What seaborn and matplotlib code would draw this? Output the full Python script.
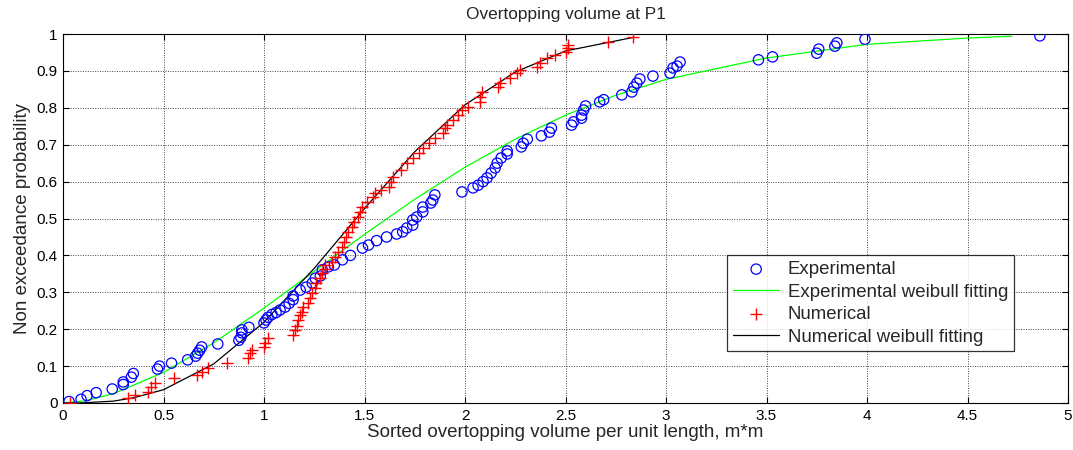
import matplotlib
matplotlib.use("Agg")
import matplotlib.pyplot as plt
import seaborn as sns
import pandas as pd
from matplotlib.ticker import FuncFormatter

# ---- data ----
exp_x = [0.03, 0.09, 0.12, 0.165, 0.245, 0.30, 0.30, 0.34, 0.35, 0.47, 0.48, 0.54, 0.62, 0.66,
         0.67, 0.68, 0.69, 0.77, 0.875, 0.885, 0.89, 0.89, 0.925, 1.00, 1.01, 1.02, 1.04, 1.06,
         1.08, 1.105, 1.125, 1.145, 1.145, 1.18, 1.21, 1.24, 1.255, 1.28, 1.29, 1.32, 1.35, 1.39,
         1.43, 1.49, 1.52, 1.56, 1.61, 1.66, 1.69, 1.71, 1.74, 1.74, 1.76, 1.79, 1.79, 1.83, 1.84,
         1.85, 1.985, 2.04, 2.065, 2.09, 2.11, 2.13, 2.15, 2.16, 2.18, 2.21, 2.21, 2.28, 2.29,
         2.31, 2.38, 2.42, 2.43, 2.53, 2.54, 2.58, 2.58, 2.59, 2.60, 2.67, 2.69, 2.78, 2.83, 2.84,
         2.855, 2.87, 2.935, 3.02, 3.035, 3.055, 3.07, 3.46, 3.53, 3.75, 3.76, 3.84, 3.85, 3.99,
         4.86]
exp_y = [0.004, 0.010, 0.020, 0.028, 0.038, 0.050, 0.057, 0.070, 0.080, 0.092, 0.100, 0.108,
         0.117, 0.127, 0.135, 0.143, 0.152, 0.160, 0.170, 0.178, 0.190, 0.198, 0.205, 0.217,
         0.225, 0.232, 0.240, 0.245, 0.252, 0.260, 0.270, 0.280, 0.290, 0.306, 0.314, 0.325,
         0.338, 0.344, 0.361, 0.369, 0.374, 0.388, 0.400, 0.420, 0.428, 0.440, 0.450, 0.458,
         0.464, 0.474, 0.482, 0.496, 0.504, 0.518, 0.531, 0.542, 0.550, 0.564, 0.572, 0.583,
         0.590, 0.600, 0.610, 0.623, 0.637, 0.650, 0.664, 0.675, 0.683, 0.694, 0.704, 0.715,
         0.724, 0.734, 0.745, 0.753, 0.762, 0.772, 0.780, 0.794, 0.805, 0.816, 0.822, 0.835,
         0.843, 0.856, 0.867, 0.878, 0.886, 0.894, 0.908, 0.913, 0.924, 0.930, 0.938, 0.948,
         0.959, 0.967, 0.976, 0.986, 0.995]

num_x = [0.035, 0.325, 0.36, 0.425, 0.44, 0.46, 0.55, 0.665, 0.69, 0.72, 0.815, 0.92, 0.93,
         0.94, 1.00, 1.005, 1.02, 1.145, 1.155, 1.163, 1.17, 1.18, 1.19, 1.195, 1.22, 1.23,
         1.24, 1.255, 1.26, 1.28, 1.29, 1.305, 1.305, 1.34, 1.355, 1.37, 1.39, 1.40, 1.41,
         1.42, 1.44, 1.45, 1.47, 1.48, 1.49, 1.51, 1.54, 1.55, 1.58, 1.62, 1.63, 1.64, 1.68,
         1.71, 1.74, 1.77, 1.79, 1.82, 1.85, 1.89, 1.90, 1.91, 1.94, 1.965, 1.985, 2.015,
         2.075, 2.075, 2.085, 2.165, 2.175, 2.225, 2.26, 2.275, 2.36, 2.375, 2.41, 2.45,
         2.50, 2.51, 2.51, 2.71, 2.835]
num_y = [0.000, 0.013, 0.022, 0.030, 0.044, 0.054, 0.068, 0.076, 0.085, 0.094, 0.108, 0.122,
         0.135, 0.143, 0.152, 0.162, 0.175, 0.184, 0.197, 0.210, 0.224, 0.238, 0.247, 0.260,
         0.270, 0.284, 0.297, 0.311, 0.325, 0.338, 0.352, 0.362, 0.374, 0.382, 0.396, 0.409,
         0.423, 0.436, 0.450, 0.463, 0.477, 0.490, 0.504, 0.518, 0.531, 0.545, 0.558, 0.569,
         0.577, 0.585, 0.599, 0.612, 0.631, 0.650, 0.664, 0.678, 0.691, 0.705, 0.718, 0.732,
         0.745, 0.753, 0.767, 0.780, 0.794, 0.802, 0.816, 0.829, 0.843, 0.856, 0.867, 0.880,
         0.894, 0.902, 0.911, 0.921, 0.935, 0.943, 0.951, 0.962, 0.970, 0.978, 0.992]

expfit_x = [0.0, 0.1, 0.25, 0.5, 0.75, 1.0, 1.25, 1.5, 1.75, 2.0, 2.25, 2.5, 2.75, 3.0, 3.5,
            4.0, 4.5, 4.72]
expfit_y = [0.0, 0.005, 0.025, 0.083, 0.163, 0.257, 0.357, 0.457, 0.552, 0.639, 0.715, 0.780,
            0.834, 0.877, 0.935, 0.972, 0.989, 0.994]

numfit_x = [0.0, 0.1, 0.25, 0.35, 0.5, 0.75, 1.0, 1.25, 1.5, 1.75, 2.0, 2.25, 2.5, 2.83]
numfit_y = [0.0, 0.0005, 0.005, 0.014, 0.036, 0.106, 0.219, 0.365, 0.527, 0.681, 0.808, 0.897,
            0.954, 0.990]

title = "Overtopping volume at P1"
xlabel = "Sorted overtopping volume per unit length, m*m"
ylabel = "Non exceedance probability"
x_ticks = [0, 0.5, 1, 1.5, 2, 2.5, 3, 3.5, 4, 4.5, 5]
y_ticks = [0, 0.1, 0.2, 0.3, 0.4, 0.5, 0.6, 0.7, 0.8, 0.9, 1]

# ---- plotting ----
sns.set_theme(style="white")
plt.rcParams['font.family'] = ['Liberation Sans', 'DejaVu Sans']

fig = plt.figure(figsize=(10.73, 4.5), dpi=100)
ax = fig.add_axes([63 / 1073, 1 - 403 / 450, 1005 / 1073, 369 / 450])

exp_df = pd.DataFrame({"x": exp_x, "y": exp_y})
num_df = pd.DataFrame({"x": num_x, "y": num_y})
efit_df = pd.DataFrame({"x": expfit_x, "y": expfit_y})
nfit_df = pd.DataFrame({"x": numfit_x, "y": numfit_y})

sns.scatterplot(data=exp_df, x="x", y="y", ax=ax, marker="o", s=55,
                facecolors="none", edgecolor="#0000ff", linewidth=0.9,
                label="Experimental", zorder=3)
sns.lineplot(data=efit_df, x="x", y="y", ax=ax, color="#00ff00", linewidth=0.9,
             estimator=None, sort=False, label="Experimental weibull fitting", zorder=2)
sns.scatterplot(data=num_df, x="x", y="y", ax=ax, marker="+", s=65,
                color="#ff0000", linewidth=1.0, label="Numerical", zorder=3)
sns.lineplot(data=nfit_df, x="x", y="y", ax=ax, color="black", linewidth=0.9,
             estimator=None, sort=False, label="Numerical weibull fitting", zorder=2)

ax.set_xlim(0, 5)
ax.set_ylim(0, 1)
ax.set_xticks(x_ticks)
ax.set_yticks(y_ticks)
fmt = FuncFormatter(lambda v, p: "%g" % v)
ax.xaxis.set_major_formatter(fmt)
ax.yaxis.set_major_formatter(fmt)
ax.tick_params(direction="in", length=4, width=0.8, colors="black", labelsize=11,
               top=True, right=True, bottom=True, left=True, pad=4)
ax.grid(True, color="#444444", linestyle=(0, (1, 1.5)), linewidth=0.7)
ax.set_axisbelow(True)
for s in ax.spines.values():
    s.set_color("black")
    s.set_linewidth(0.8)

ax.set_title(title, fontsize=12.4, pad=11)
ax.set_xlabel(xlabel, fontsize=13.5, labelpad=1)
ax.set_ylabel(ylabel, fontsize=13.5, labelpad=4)

handles, labels = ax.get_legend_handles_labels()
leg = ax.legend(handles, labels, loc="upper left",
                bbox_to_anchor=(0.661, 0.40), borderaxespad=0,
                fontsize=13.4, frameon=True, fancybox=False, borderpad=0.3,
                labelspacing=0.3, handlelength=2.5, handletextpad=0.45)
leg.get_frame().set_edgecolor("black")
leg.get_frame().set_linewidth(0.9)

fig.savefig("out.png", dpi=100, facecolor="white")
